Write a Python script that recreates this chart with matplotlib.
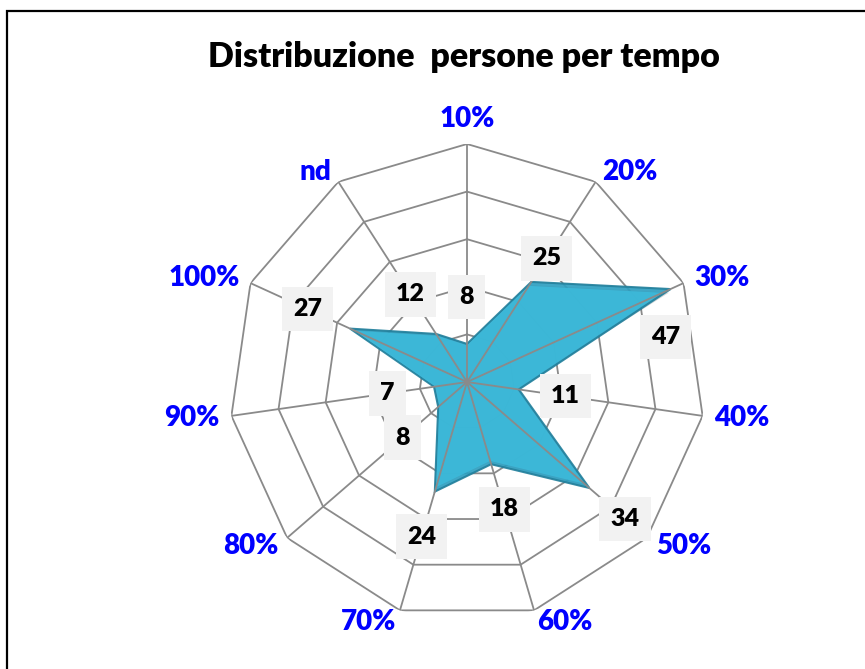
import numpy as np
import matplotlib.pyplot as plt
from matplotlib.patches import Rectangle

categories = ['10%', '20%', '30%', '40%', '50%', '60%', '70%', '80%', '90%', '100%', 'nd']
values = [8, 25, 47, 11, 34, 18, 24, 8, 7, 27, 12]
rings = [10, 20, 30, 40, 50]

plt.rcParams['font.family'] = ['Lato', 'DejaVu Sans']

n = len(categories)
theta = np.arange(n) * 2 * np.pi / n
theta_c = np.append(theta, theta[0])
vals_c = np.append(values, values[0])

fig = plt.figure(figsize=(8.65, 6.69), dpi=100)
# centre at (467, 382) px, outer radius 238 px
ax = fig.add_axes([(467 - 238) / 865, (669 - 382 - 238) / 669, 476 / 865, 476 / 669],
                  projection='polar')
ax.set_theta_offset(np.pi / 2)
ax.set_theta_direction(-1)
ax.set_ylim(0, rings[-1])
ax.grid(False)
ax.spines['polar'].set_visible(False)
ax.set_xticks([])
ax.set_yticks([])
ax.patch.set_alpha(0)

# polygon rings (seen faintly through the area)
for r in rings:
    ax.plot(theta_c, [r] * (n + 1), color='#8A8A8A', lw=1.3, zorder=1)

# shadow + filled area
ax.fill(theta_c + 0.012, vals_c - 0.6, color='#000000', alpha=0.15, lw=0, zorder=1.5)
ax.fill(theta_c, vals_c, facecolor='#2E9FC0', edgecolor='#23809C', lw=1.5, alpha=0.92, zorder=2)
ax.fill(theta_c, vals_c * 0.96, facecolor='#3DBADA', edgecolor='none', alpha=0.9, zorder=2)

# spokes on top
for t in theta:
    ax.plot([t, t], [0, rings[-1]], color='#8A8A8A', lw=1.3, zorder=3)

# category labels
for t, lab in zip(theta, categories):
    s, c = np.sin(t), np.cos(t)
    d = 12 * 0.72
    if s > 0.1:
        ha = 'left'
    elif s < -0.1:
        ha = 'right'
    else:
        ha = 'center'
    va = 'bottom' if c > 0.95 else 'center'
    ax.annotate(lab, xy=(t, rings[-1]), xytext=(d * s, d * c), textcoords='offset points',
                ha=ha, va=va, color='#0000FF', fontsize=20, fontweight='heavy',
                annotation_clip=False, zorder=5)

# data labels
label_shift = {1: (28 * 0.54, 28 * 0.84), 2: (-5, -48)}
for i, (t, v) in enumerate(zip(theta, values)):
    if i in label_shift:
        dx, dy = label_shift[i]
    else:
        dx, dy = 47 * np.sin(t), 47 * np.cos(t)
    ax.annotate(str(v), xy=(t, v), xytext=(dx * 0.72, dy * 0.72), textcoords='offset points',
                ha='center', va='center', fontsize=18, fontweight='heavy', color='black',
                bbox=dict(boxstyle='square,pad=0.45', fc='#F2F2F2', ec='none'),
                annotation_clip=False, zorder=6)

fig.text(464 / 865, 1 - 57 / 669, 'Distribuzione  persone per tempo', ha='center', va='center',
         fontsize=24.5, fontweight='heavy')

fig.add_artist(Rectangle((7 / 865, -0.1), 2, 1 - 11 / 669 + 0.1, transform=fig.transFigure,
                         fill=False, ec='black', lw=1.6))

fig.savefig('out.png', dpi=100)
